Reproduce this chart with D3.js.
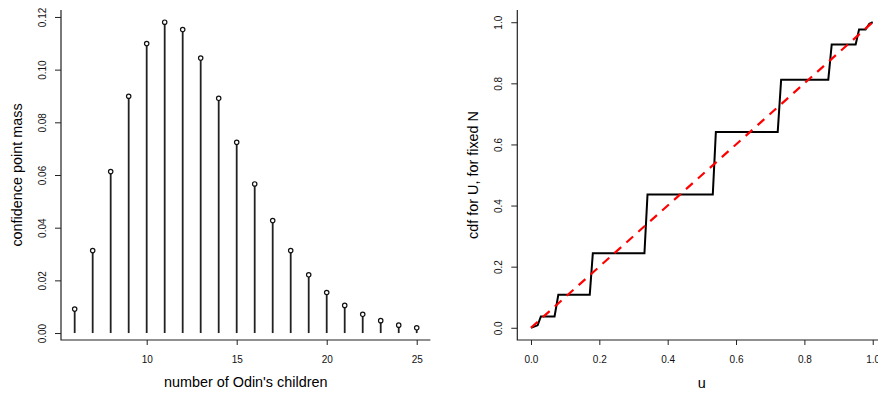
<!DOCTYPE html>
<html>
<head>
<meta charset="utf-8">
<script src="https://cdn.jsdelivr.net/npm/d3@7"></script>
<style>
  body { margin: 0; background: #fff; }
  svg { display: block; font-family: "Liberation Sans", Arial, sans-serif; }
  .tick text { fill: #111; }
</style>
</head>
<body>
<div id="chart"></div>
<script>
// left panel: confidence point mass for the number of Odin's children
var children = [6, 7, 8, 9, 10, 11, 12, 13, 14, 15, 16, 17, 18, 19, 20, 21, 22, 23, 24, 25];
var pointMass = [0.0091, 0.0313, 0.0613, 0.0899, 0.1099, 0.1180, 0.1152, 0.1044, 0.0891, 0.0724,
                 0.0566, 0.0427, 0.0313, 0.0221, 0.0154, 0.0105, 0.0071, 0.0047, 0.0030, 0.0020];
var leftXTicks = [10, 15, 20, 25];
var leftYTicks = [0, 0.02, 0.04, 0.06, 0.08, 0.10, 0.12];

// right panel: cdf for U with N fixed (step curve) and the diagonal
var uVals   = [0, 0.0195, 0.029, 0.069, 0.080, 0.172, 0.181, 0.332, 0.341, 0.532, 0.541,
               0.722, 0.732, 0.870, 0.880, 0.950, 0.960, 0.979, 0.990, 1.0];
var cdfVals = [0, 0.008, 0.037, 0.037, 0.108, 0.108, 0.244, 0.244, 0.436, 0.436, 0.641,
               0.641, 0.812, 0.812, 0.927, 0.927, 0.976, 0.976, 0.995, 1.0];
var diagonal = [0, 1];
var rightTicks = [0, 0.2, 0.4, 0.6, 0.8, 1.0];

var W = 878, H = 394;
var svg = d3.select("#chart").append("svg")
    .attr("width", W)
    .attr("height", H);

// ---- left panel ----
var x1 = d3.scaleLinear().domain([5.24, 25.76]).range([61, 430.4]),
    y1 = d3.scaleLinear().domain([-0.00264, 0.12264]).range([340, 10]);

var left = svg.append("g");

left.selectAll("line.stem")
    .data(children)
    .enter().append("line")
    .attr("class", "stem")
    .attr("x1", d => x1(d)).attr("x2", d => x1(d))
    .attr("y1", y1(0))
    .attr("y2", (d, i) => y1(pointMass[i]))
    .attr("stroke", "#222")
    .attr("stroke-width", 1.8);

left.selectAll("circle")
    .data(children)
    .enter().append("circle")
    .attr("cx", d => x1(d))
    .attr("cy", (d, i) => y1(pointMass[i]))
    .attr("r", 2.2)
    .attr("fill", "#fff")
    .attr("stroke", "#111")
    .attr("stroke-width", 1.2);

drawAxes(left, x1, y1, leftXTicks, leftYTicks, d3.format(".0f"), d3.format(".2f"));

left.append("text")
    .attr("x", (x1.range()[0] + x1.range()[1]) / 2)
    .attr("y", 387)
    .attr("text-anchor", "middle")
    .style("font-size", "14.4px")
    .text("number of Odin's children");

left.append("text")
    .attr("transform", "translate(22,175) rotate(-90)")
    .attr("text-anchor", "middle")
    .style("font-size", "14.4px")
    .text("confidence point mass");

// ---- right panel ----
var x2 = d3.scaleLinear().domain([-0.04, 1.04]).range([517.3, 886.4]),
    y2 = d3.scaleLinear().domain([-0.04, 1.04]).range([340, 10]);

var right = svg.append("g");

var stepLine = d3.line()
    .x((d, i) => x2(uVals[i]))
    .y((d, i) => y2(cdfVals[i]));

right.append("path")
    .datum(uVals)
    .attr("d", stepLine)
    .attr("fill", "none")
    .attr("stroke", "#000")
    .attr("stroke-width", 2);

right.append("path")
    .datum(diagonal)
    .attr("d", d3.line().x(d => x2(d)).y(d => y2(d)))
    .attr("fill", "none")
    .attr("stroke", "#ff0000")
    .attr("stroke-width", 2.2)
    .attr("stroke-dasharray", "9,7");

drawAxes(right, x2, y2, rightTicks, rightTicks, d3.format(".1f"), d3.format(".1f"));

right.append("text")
    .attr("x", (x2.range()[0] + x2.range()[1]) / 2)
    .attr("y", 388)
    .attr("text-anchor", "middle")
    .style("font-size", "14.4px")
    .text("u");

right.append("text")
    .attr("transform", "translate(478,175) rotate(-90)")
    .attr("text-anchor", "middle")
    .style("font-size", "14.4px")
    .text("cdf for U, for fixed N");

// L-shaped frame plus R-style ticks
function drawAxes(g, xs, ys, xt, yt, xf, yf) {
    var x0 = xs.range()[0], xEnd = xs.range()[1],
        yBottom = ys.range()[0], yTop = ys.range()[1];

    g.append("path")
        .attr("d", "M" + x0 + "," + yTop + "V" + yBottom + "H" + xEnd)
        .attr("fill", "none")
        .attr("stroke", "#222")
        .attr("stroke-width", 1.2);

    var xa = g.append("g")
        .attr("transform", "translate(0," + yBottom + ")")
        .call(d3.axisBottom(xs).tickValues(xt).tickFormat(xf).tickSize(5).tickPadding(11));
    xa.select(".domain").remove();

    var ya = g.append("g")
        .attr("transform", "translate(" + x0 + ",0)")
        .call(d3.axisLeft(ys).tickValues(yt).tickFormat(yf).tickSize(6));
    ya.select(".domain").remove();
    ya.selectAll(".tick text")
        .attr("x", null).attr("dy", null)
        .attr("text-anchor", "middle")
        .attr("transform", "translate(-15,0) rotate(-90)");

    g.selectAll(".tick line").attr("stroke", "#222");
    g.selectAll(".tick text").style("font-size", "10px").style("font-family", "Liberation Sans, Arial, sans-serif");
}
</script>
</body>
</html>
